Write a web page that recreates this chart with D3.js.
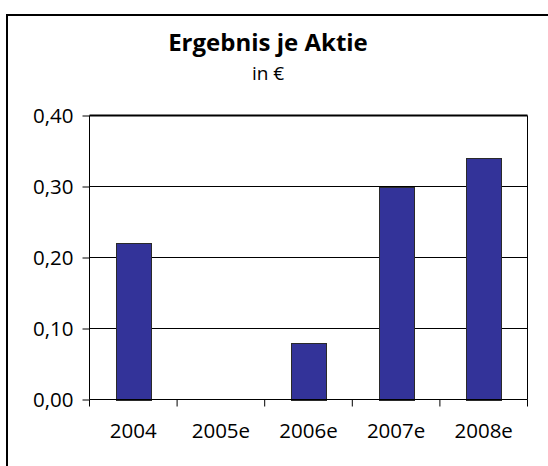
<!DOCTYPE html>
<html>
<head>
<meta charset="utf-8">
<script src="https://cdn.jsdelivr.net/npm/d3@7"></script>
<style>
  html, body { margin: 0; padding: 0; background: #fff; }
  svg { display: block; }
  text { font-family: "Open Sans", "DejaVu Sans", sans-serif; fill: #000; }
</style>
</head>
<body>
<script>
const categories = ["2004", "2005e", "2006e", "2007e", "2008e"];
const values = [0.22, null, 0.08, 0.30, 0.34];
const yTicks = [0, 0.10, 0.20, 0.30, 0.40];
const titleText = "Ergebnis je Aktie";
const subtitleText = "in €";

(function () {
const W = 548, H = 466;
const svg = d3.select("body").append("svg").attr("width", W).attr("height", H);

// outer frame (only top/left visible in the crop)
svg.append("rect").attr("x", 7).attr("y", 15).attr("width", W + 10).attr("height", H + 10)
  .attr("fill", "none").attr("stroke", "#000").attr("stroke-width", 2);

const pL = 89.5, pR = 527.5, pT = 115.5, pB = 399.5;

const x = d3.scaleBand().domain(categories).range([pL, pR]).paddingInner(0.6).paddingOuter(0.3);
const xAxisScale = d3.scaleBand().domain(categories).range([pL, pR]).padding(0);
const y = d3.scaleLinear().domain([0, 0.4]).range([pB, pT]);

// gridlines
svg.append("g").selectAll("line").data(yTicks.filter(d => d > 0 && d < 0.4)).join("line")
  .attr("x1", pL).attr("x2", pR)
  .attr("y1", d => y(d)).attr("y2", d => y(d))
  .attr("stroke", "#000").attr("stroke-width", 1);

// plot frame top/right
svg.append("line").attr("x1", pL).attr("x2", pR).attr("y1", y(0.4)).attr("y2", y(0.4))
  .attr("stroke", "#000").attr("stroke-width", 2);
svg.append("line").attr("x1", pR).attr("x2", pR).attr("y1", pT).attr("y2", pB)
  .attr("stroke", "#000").attr("stroke-width", 1);

// bars
svg.append("g").selectAll("rect").data(categories.map((c, i) => ({c, v: values[i]})).filter(d => d.v != null && d.v > 0))
  .join("rect")
  .attr("x", d => Math.round(x(d.c)) + 0.5)
  .attr("y", d => Math.round(y(d.v)) + 0.5)
  .attr("width", Math.round(x.bandwidth()))
  .attr("height", d => Math.round(y(0)) - Math.round(y(d.v)))
  .attr("fill", "#333399").attr("stroke", "#2a2a2a").attr("stroke-width", 1);

// y axis
const yAxis = d3.axisLeft(y).tickValues(yTicks).tickSize(7).tickPadding(9)
  .tickFormat(d => d3.format(".2f")(d).replace(".", ","));
const gy = svg.append("g").attr("transform", `translate(${pL},0)`).call(yAxis);
gy.select(".domain").remove();
gy.append("line").attr("x1", 0).attr("x2", 0).attr("y1", pT).attr("y2", pB).attr("stroke", "#000");
gy.selectAll(".tick line").attr("stroke", "#000");
gy.selectAll(".tick text").attr("font-size", 20.5).attr("font-family", "Open Sans, DejaVu Sans, sans-serif").attr("fill", "#000");

// x axis
const gx = svg.append("g").attr("transform", `translate(0,${pB})`);
gx.append("line").attr("x1", pL).attr("x2", pR).attr("y1", 0).attr("y2", 0).attr("stroke", "#000");
const bounds = categories.map(c => xAxisScale(c)).concat([pR]);
gx.selectAll("line.tk").data(bounds).join("line").attr("class", "tk")
  .attr("x1", d => d).attr("x2", d => d).attr("y1", 0).attr("y2", 7).attr("stroke", "#000");
gx.selectAll("text").data(categories).join("text")
  .attr("x", d => xAxisScale(d) + xAxisScale.bandwidth() / 2)
  .attr("y", 38)
  .attr("text-anchor", "middle")
  .attr("font-size", 20.5)
  .text(d => d);

// titles
svg.append("text").attr("x", 268).attr("y", 51).attr("text-anchor", "middle")
  .attr("font-size", 24).attr("font-weight", "bold").text(titleText);
svg.append("text").attr("x", 268).attr("y", 80).attr("text-anchor", "middle")
  .attr("font-size", 19).text(subtitleText);
})();
</script>
</body>
</html>
